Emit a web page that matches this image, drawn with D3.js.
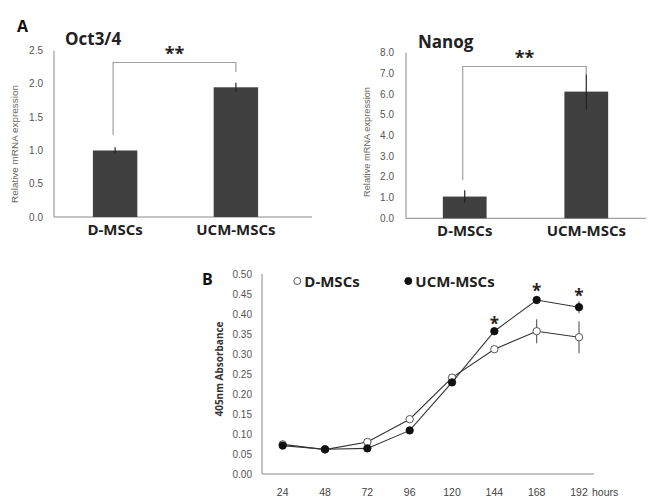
<!DOCTYPE html>
<html>
<head>
<meta charset="utf-8">
<script src="https://cdn.jsdelivr.net/npm/d3@7"></script>
<style>
body { margin: 0; background: #fff; }
svg { display: block; font-family: "Open Sans", "Noto Sans", sans-serif; }
.num { font-family: "Liberation Sans", Arial, sans-serif; }
</style>
</head>
<body>
<div id="chart"></div>
<script>
var groups = ["D-MSCs", "UCM-MSCs"];
var octValues = [1.0, 1.95];
var octErrors = [0.05, 0.07];
var nanogValues = [1.05, 6.12];
var nanogErrors = [0.3, 0.87];
var octTicks = [0, 0.5, 1.0, 1.5, 2.0, 2.5];
var nanogTicks = [0, 1, 2, 3, 4, 5, 6, 7, 8];

var hours = [24, 48, 72, 96, 120, 144, 168, 192];
var dValues = [0.074, 0.061, 0.080, 0.137, 0.241, 0.312, 0.357, 0.342];
var dErrors = [0.003, 0.002, 0.004, 0.004, 0.006, 0.005, 0.030, 0.040];
var ucmValues = [0.071, 0.062, 0.064, 0.109, 0.229, 0.357, 0.435, 0.417];
var ucmErrors = [0.003, 0.002, 0.003, 0.004, 0.005, 0.005, 0.010, 0.015];
var starHours = [144, 168, 192];
var absTicks = [0, 0.05, 0.1, 0.15, 0.2, 0.25, 0.3, 0.35, 0.4, 0.45, 0.5];

var svg = d3.select("#chart").append("svg")
    .attr("width", 657).attr("height", 501);

var axisGray = "#8a8a8a";
var barColor = "#404040";

function barPanel(opt) {
    var g = svg.append("g");
    var y = d3.scaleLinear().domain([0, opt.max]).range([opt.bottom, opt.top]);
    var x = d3.scaleBand().domain(groups).range([opt.left, opt.right])
        .paddingInner(opt.padIn).paddingOuter(opt.padOut);

    g.append("line")
        .attr("x1", opt.left).attr("x2", opt.left)
        .attr("y1", opt.top).attr("y2", opt.bottom)
        .attr("stroke", axisGray);
    g.append("line")
        .attr("x1", opt.left).attr("x2", opt.axisEnd)
        .attr("y1", opt.bottom).attr("y2", opt.bottom)
        .attr("stroke", axisGray);

    g.selectAll(".tick").data(opt.ticks).enter().append("text")
        .attr("class", "num")
        .attr("x", opt.tickX)
        .attr("y", function (d) { return y(d) + 3.5; })
        .attr("text-anchor", "end")
        .attr("font-size", 10)
        .attr("fill", "#555")
        .text(function (d) { return d.toFixed(1); });

    g.selectAll("rect").data(opt.values).enter().append("rect")
        .attr("x", function (d, i) { return x(groups[i]); })
        .attr("y", function (d) { return y(d); })
        .attr("width", x.bandwidth())
        .attr("height", function (d) { return opt.bottom - y(d); })
        .attr("fill", barColor);

    g.selectAll(".err").data(opt.values).enter().append("line")
        .attr("x1", function (d, i) { return x(groups[i]) + x.bandwidth() / 2; })
        .attr("x2", function (d, i) { return x(groups[i]) + x.bandwidth() / 2; })
        .attr("y1", function (d, i) { return y(d - opt.errors[i]); })
        .attr("y2", function (d, i) { return y(d + opt.errors[i]); })
        .attr("stroke", "#222").attr("stroke-width", 1.2);

    var cx0 = x(groups[0]) + x.bandwidth() / 2 - 2;
    var cx1 = x(groups[1]) + x.bandwidth() / 2;
    g.append("path")
        .attr("d", "M" + cx0 + "," + opt.bracketLeft + "V" + opt.bracketTop +
            "H" + cx1 + "V" + opt.bracketRight)
        .attr("fill", "none").attr("stroke", "#a0a0a0").attr("stroke-width", 1.2);
    g.append("text")
        .attr("x", (cx0 + cx1) / 2).attr("y", opt.bracketTop - 3)
        .attr("text-anchor", "middle")
        .attr("font-size", 18).attr("font-weight", "bold").attr("fill", "#222")
        .text("**");

    g.selectAll(".xl").data(groups).enter().append("text")
        .attr("x", function (d) { return x(d) + x.bandwidth() / 2; })
        .attr("y", opt.bottom + 18)
        .attr("text-anchor", "middle")
        .attr("font-size", 15).attr("font-weight", "bold").attr("fill", "#222")
        .text(function (d) { return d; });

    g.append("text")
        .attr("class", "num")
        .attr("transform", "translate(" + opt.titleX + "," + opt.titleY + ") rotate(-90)")
        .attr("text-anchor", "middle")
        .attr("font-size", 8.5).attr("fill", "#666")
        .attr("textLength", opt.titleLen).attr("lengthAdjust", "spacingAndGlyphs")
        .text("Relative mRNA expression");

    g.append("text")
        .attr("x", opt.nameX).attr("y", opt.nameY)
        .attr("font-size", 17).attr("font-weight", "bold").attr("fill", "#222")
        .text(opt.name);
}

barPanel({
    name: "Oct3/4", nameX: 65, nameY: 45,
    values: octValues, errors: octErrors, ticks: octTicks, max: 2.5,
    left: 54, right: 297, axisEnd: 312, top: 50.7, bottom: 217,
    padIn: 0.632, padOut: 0.322, tickX: 43, titleX: 18, titleY: 144, titleLen: 118,
    bracketTop: 62.5, bracketLeft: 135, bracketRight: 72
});

barPanel({
    name: "Nanog", nameX: 418, nameY: 48,
    values: nanogValues, errors: nanogErrors, ticks: nanogTicks, max: 8,
    left: 406, right: 645, axisEnd: 646, top: 52.7, bottom: 218.3,
    padIn: 0.64, padOut: 0.303, tickX: 394, titleX: 370, titleY: 142, titleLen: 110,
    bracketTop: 66.5, bracketLeft: 180, bracketRight: 75
});

svg.append("text").attr("x", 17).attr("y", 32)
    .attr("font-size", 16).attr("font-weight", "bold").attr("fill", "#111").text("A");

// panel B
var bLeft = 262, bRight = 594, bTop = 274, bBottom = 474;
var xh = d3.scaleLinear().domain([24, 192]).range([282.7, 579]);
var ya = d3.scaleLinear().domain([0, 0.5]).range([bBottom, bTop]);
var gb = svg.append("g");

gb.append("line").attr("x1", bLeft).attr("x2", bLeft)
    .attr("y1", bTop).attr("y2", bBottom).attr("stroke", axisGray);
gb.append("line").attr("x1", bLeft).attr("x2", bRight)
    .attr("y1", bBottom).attr("y2", bBottom).attr("stroke", axisGray);

gb.selectAll(".yt").data(absTicks).enter().append("text")
    .attr("class", "num")
    .attr("x", 252).attr("y", function (d) { return ya(d) + 3.5; })
    .attr("text-anchor", "end").attr("font-size", 10).attr("fill", "#555")
    .text(function (d) { return d.toFixed(2); });

gb.selectAll(".xt").data(hours).enter().append("text")
    .attr("class", "num")
    .attr("x", function (d) { return xh(d); }).attr("y", 496)
    .attr("text-anchor", "middle").attr("font-size", 10.5).attr("fill", "#444")
    .text(function (d) { return d; });
gb.append("text").attr("class", "num").attr("x", 592).attr("y", 496)
    .attr("font-size", 10.5).attr("fill", "#444").text("hours");

gb.append("text")
    .attr("transform", "translate(223,369) rotate(-90)")
    .attr("text-anchor", "middle").attr("font-size", 10)
    .attr("font-weight", "bold").attr("fill", "#333")
    .text("405nm Absorbance");

svg.append("text").attr("x", 202).attr("y", 285)
    .attr("font-size", 16).attr("font-weight", "bold").attr("fill", "#111").text("B");

var line = d3.line()
    .x(function (d) { return xh(d.h); })
    .y(function (d) { return ya(d.v); });

function series(values, errors, filled) {
    var data = hours.map(function (h, i) { return { h: h, v: values[i], e: errors[i] }; });
    gb.append("path").attr("d", line(data))
        .attr("fill", "none").attr("stroke", "#333").attr("stroke-width", 1.1);
    gb.selectAll(null).data(data).enter().append("line")
        .attr("x1", function (d) { return xh(d.h); })
        .attr("x2", function (d) { return xh(d.h); })
        .attr("y1", function (d) { return ya(d.v - d.e); })
        .attr("y2", function (d) { return ya(d.v + d.e); })
        .attr("stroke", "#555").attr("stroke-width", 1.1);
    gb.selectAll(null).data(data).enter().append("circle")
        .attr("cx", function (d) { return xh(d.h); })
        .attr("cy", function (d) { return ya(d.v); })
        .attr("r", 3.7)
        .attr("fill", filled ? "#111" : "#fff")
        .attr("stroke", filled ? "#111" : "#444").attr("stroke-width", 0.9);
}
series(dValues, dErrors, false);
series(ucmValues, ucmErrors, true);

gb.selectAll(".star").data(starHours).enter().append("text")
    .attr("x", function (d) { return xh(d); })
    .attr("y", function (d) {
        var i = hours.indexOf(d);
        return ya(ucmValues[i] + ucmErrors[i]) + 1;
    })
    .attr("text-anchor", "middle").attr("font-size", 17)
    .attr("font-weight", "bold").attr("fill", "#222").text("*");

// legend
var legend = [{ name: "D-MSCs", filled: false, x: 297.3 }, { name: "UCM-MSCs", filled: true, x: 408.3 }];
gb.selectAll(".lc").data(legend).enter().append("circle")
    .attr("cx", function (d) { return d.x; }).attr("cy", 281)
    .attr("r", 3.5)
    .attr("fill", function (d) { return d.filled ? "#111" : "#fff"; })
    .attr("stroke", function (d) { return d.filled ? "#111" : "#555"; });
gb.selectAll(".lt").data(legend).enter().append("text")
    .attr("x", function (d) { return d.x + 7; }).attr("y", 286.5)
    .attr("font-size", 15).attr("font-weight", "bold").attr("fill", "#222")
    .text(function (d) { return d.name; });
</script>
</body>
</html>
